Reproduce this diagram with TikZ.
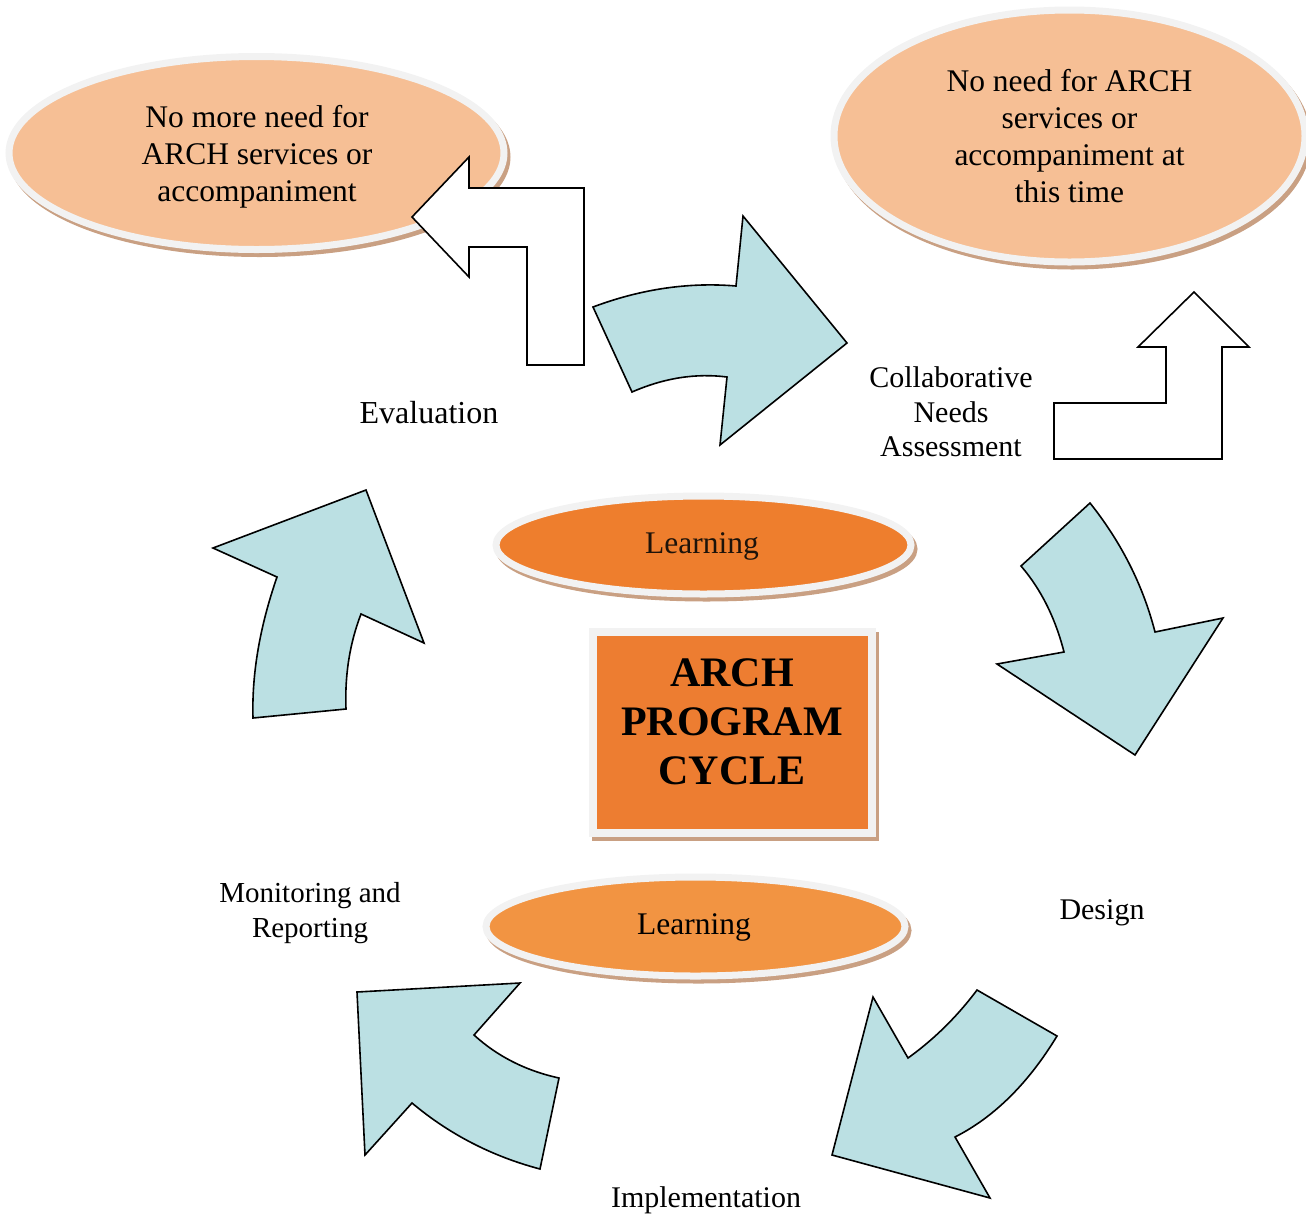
\documentclass[tikz,border=0pt]{standalone}
\usepackage{fontspec}
\setmainfont{Liberation Serif}
\usetikzlibrary{shapes.geometric,shadows}
\definecolor{peach}{HTML}{F6BF95}
\definecolor{rimgray}{HTML}{F2F2F2}
\definecolor{shade}{HTML}{C9A083}
\definecolor{orangeA}{HTML}{EE7E2D}
\definecolor{orangeB}{HTML}{F29442}
\definecolor{boxorange}{HTML}{ED7D31}
\definecolor{arrowblue}{HTML}{BBE0E3}
\begin{document}
\begin{tikzpicture}[x=1pt,y=-1pt,
  oval/.style={ellipse, draw=rimgray, line width=7pt, inner sep=0pt, align=center,
    general shadow={fill=shade, draw=shade, line width=7pt, shadow xshift=3pt, shadow yshift=-4pt}},
  bigtext/.style={font=\fontsize{31.5}{37}\selectfont},
  labeltext/.style={font=\fontsize{30}{34.5}\selectfont, align=center, inner sep=0pt},
  bluearrow/.style={draw=black, line width=1.6pt, fill=arrowblue, line join=miter},
  whitearrow/.style={draw=black, line width=1.6pt, fill=white, line join=miter},
]
\useasboundingbox (0,0) rectangle (1306,1216);

% top ellipses
\node[oval, fill=peach, minimum width=495pt, minimum height=193pt] (nomore) at (256.5,153) {};
\node[bigtext, align=center, inner sep=0pt] (nomoret) at (257,156.5)
  {No more need for\\ARCH services or\\accompaniment};
\node[oval, bigtext, fill=peach, minimum width=471pt, minimum height=252pt] (noneed) at (1069.5,136)
  {No need for ARCH\\services or\\accompaniment at\\this time};

% learning ellipses
\node[oval, fill=orangeA, minimum width=415pt, minimum height=98pt] (learn1) at (703.5,545) {};
\node[bigtext, inner sep=0pt, text=black!85!brown] (learn1t) at (702,546) {Learning};
\node[oval, fill=orangeB, minimum width=419pt, minimum height=99pt] (learn2) at (695.5,926.5) {};
\node[bigtext, inner sep=0pt] (learn2t) at (694,927) {Learning};

% center box
\node[rectangle, draw=rimgray, line width=8pt, fill=boxorange, minimum width=279pt, minimum height=201pt,
  inner sep=0pt, general shadow={fill=shade, draw=shade, line width=8pt, shadow xshift=3pt, shadow yshift=-4pt}]
  (box) at (732.5,732) {};
\node[font=\fontsize{42}{49}\selectfont\bfseries, align=center, inner sep=0pt] (title) at (732,721.5)
  {ARCH\\PROGRAM\\CYCLE};

% labels
\node[labeltext, font=\fontsize{32}{36}\selectfont] (eval) at (429,413) {Evaluation};
\node[labeltext] (cna) at (951,412) {Collaborative\\Needs\\Assessment};
\node[labeltext] (design) at (1102,913) {Design};
\node[labeltext] (impl) at (706,1200) {Implementation};
\node[labeltext, font=\fontsize{29}{35}\selectfont] (monit) at (310,913.5) {Monitoring and\\Reporting};

% white bent arrows
\draw[whitearrow] (412,217) -- (469,157) -- (469,188) -- (584,188) -- (584,365) -- (527,365)
  -- (527,247) -- (469,247) -- (469,277) -- cycle;
\draw[whitearrow] (1194,292) -- (1249,347) -- (1222,347) -- (1222,459) -- (1054,459) -- (1054,403)
  -- (1166,403) -- (1166,347) -- (1138,347) -- cycle;

% blue curved arrows
\draw[bluearrow] (593,307) -- (632,392) .. controls (664,378) and (695.7,373) .. (727,377) -- (720,445) -- (847,343)
  -- (743,216) -- (736,286) .. controls (688.7,282) and (641,289) .. (593,307) -- cycle;
\draw[bluearrow] (1090,503) -- (1021,566) .. controls (1041,589.3) and (1055.3,618) .. (1064,652) -- (997,664) -- (1135,755)
  -- (1223,618) -- (1155,632) .. controls (1143,585.3) and (1121.3,542.3) .. (1090,503) -- cycle;
\draw[bluearrow] (977,990) -- (1057,1036) .. controls (1028.3,1083.3) and (994.3,1117) .. (955,1137) -- (990,1198) -- (832,1155)
  -- (873,997) -- (908,1058) .. controls (934,1039.3) and (957,1016.7) .. (977,990) -- cycle;
\draw[bluearrow] (357,992) -- (520,983) -- (474,1035) .. controls (497.3,1056.3) and (525.7,1070.7) .. (559,1078) -- (540,1169)
  .. controls (492,1156.3) and (449.3,1134.3) .. (412,1103) -- (365,1155) -- cycle;
\draw[bluearrow] (253,718) -- (346,709) .. controls (344.7,675) and (349.7,643.3) .. (361,614) -- (424,643) -- (366,490)
  -- (213,548) -- (277,577) .. controls (259.7,627) and (251.7,674) .. (253,718) -- cycle;
\end{tikzpicture}
\end{document}
